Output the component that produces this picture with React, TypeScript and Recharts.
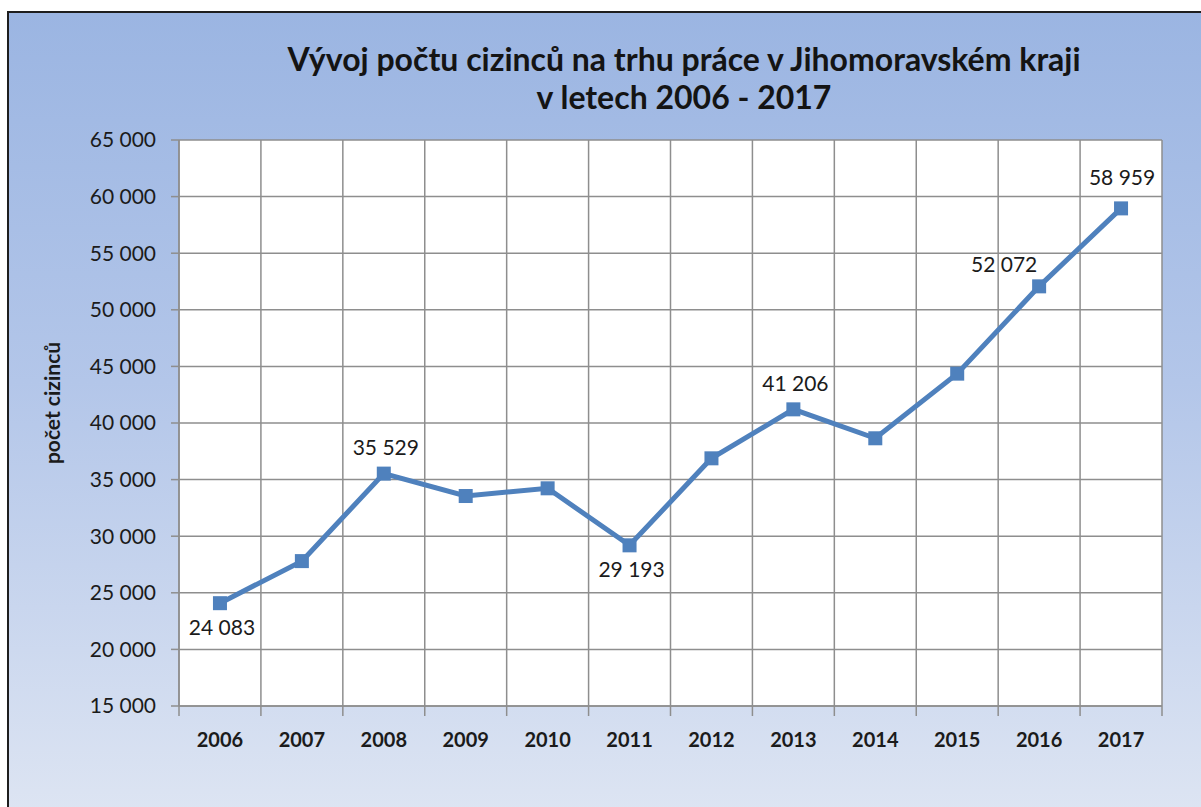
import React from 'react';
import { LineChart, Line, XAxis, YAxis, CartesianGrid, LabelList } from 'recharts';

const years = ['2006', '2007', '2008', '2009', '2010', '2011', '2012', '2013', '2014', '2015', '2016', '2017'];
const foreigners = [24083, 27800, 35529, 33550, 34230, 29193, 36880, 41206, 38650, 44360, 52072, 58959];
const yTicks = [15000, 20000, 25000, 30000, 35000, 40000, 45000, 50000, 55000, 60000, 65000];
const labelPlacement = ['below', null, 'above', null, null, 'below', null, 'above', null, null, 'left', 'aboveFar'];
const titleLines = ['Vývoj počtu cizinců na trhu práce v Jihomoravském kraji', 'v letech 2006 - 2017'];
const yAxisTitle = 'počet cizinců';

const data = years.map((year, i) => ({ pos: i + 0.5, year, value: foreigners[i] }));
const boundaryTicks = years.map((_, i) => i).concat(years.length);
const centerTicks = years.map((_, i) => i + 0.5);

const FONT = 'Lato, "Open Sans", sans-serif';
const BLUE = '#4f81bd';
const GRID = '#8e8e8e';
const TEXT = '#1b1b1b';

const fmt = (v: number) => String(v).replace(/\B(?=(\d{3})+(?!\d))/g, ' ');

const SquareDot = (props: any) => {
  const { cx, cy } = props;
  if (cx == null || cy == null) return null;
  return <rect x={cx - 7} y={cy - 7} width={14} height={14} fill={BLUE} />;
};

const placementOffsets: Record<string, [number, number]> = {
  below: [2, 23],
  above: [2, -27],
  aboveFar: [1, -32],
  left: [-35, -23],
};

const renderDataLabel = (props: any) => {
  const { x, y, value, index } = props;
  const p = labelPlacement[index];
  if (!p) return null;
  const [dx, dy] = placementOffsets[p];
  return (
    <text
      x={x + dx}
      y={y + dy}
      textAnchor="middle"
      dominantBaseline="central"
      fontFamily={FONT}
      fontSize={21}
      fill={TEXT}
    >
      {fmt(value)}
    </text>
  );
};

const renderYTitle = (props: any) => {
  const vb = props.viewBox || {};
  const x = (vb.x || 0) + 51;
  const y = (vb.y || 0) + (vb.height || 0) / 2 - 20;
  return (
    <text
      x={x}
      y={y}
      transform={`rotate(-90 ${x} ${y})`}
      textAnchor="middle"
      dominantBaseline="central"
      fontFamily={FONT}
      fontWeight="bold"
      fontSize={21}
      fill={TEXT}
    >
      {yAxisTitle}
    </text>
  );
};

export default function App() {
  return (
    <div style={{ position: 'fixed', left: 0, top: 0, width: 1201, height: 807, overflow: 'hidden', background: '#fff' }}>
      <div
        style={{
          position: 'absolute',
          left: 7,
          top: 11,
          width: 1220,
          height: 820,
          border: '2px solid #1e1e1e',
          background: 'linear-gradient(to bottom, #9bb5e2 0%, #b3c6e9 45%, #dfe6f3 100%)',
        }}
      />
      <div
        style={{
          position: 'absolute',
          left: 0,
          top: 40,
          width: 1368,
          textAlign: 'center',
          fontFamily: FONT,
          fontWeight: 'bold',
          fontSize: 32,
          lineHeight: '38px',
          color: '#141414',
        }}
      >
        <div>{titleLines[0]}</div>
        <div>{titleLines[1]}</div>
      </div>
      <div style={{ position: 'absolute', left: 0, top: 0 }}>
        <LineChart width={1201} height={807} data={data} margin={{ top: 140, right: 39, bottom: 61, left: 0 }}>
          <CartesianGrid xAxisId="grid" stroke={GRID} strokeWidth={1.5} fill="#ffffff" fillOpacity={1} />
          <XAxis
            xAxisId="grid"
            type="number"
            dataKey="pos"
            domain={[0, years.length]}
            ticks={boundaryTicks}
            interval={0}
            tickFormatter={() => ''}
            tickSize={10}
            height={10}
            axisLine={{ stroke: GRID, strokeWidth: 1.5 }}
            tickLine={{ stroke: GRID, strokeWidth: 1.5 }}
          />
          <XAxis
            xAxisId="lab"
            type="number"
            dataKey="pos"
            domain={[0, years.length]}
            ticks={centerTicks}
            interval={0}
            tickFormatter={(v: number) => years[Math.floor(v)]}
            tickSize={0}
            tickMargin={17}
            height={30}
            axisLine={false}
            tickLine={false}
            tick={{ fontFamily: FONT, fontWeight: 'bold', fontSize: 20, fill: TEXT }}
          />
          <YAxis
            type="number"
            domain={[15000, 65000]}
            ticks={yTicks}
            interval={0}
            tickFormatter={fmt}
            width={179}
            tickSize={8}
            tickMargin={15}
            axisLine={{ stroke: GRID, strokeWidth: 1.5 }}
            tickLine={{ stroke: GRID, strokeWidth: 1.5 }}
            tick={{ fontFamily: FONT, fontSize: 21, fill: TEXT }}
            label={{ content: renderYTitle }}
          />
          <Line
            xAxisId="lab"
            type="linear"
            dataKey="value"
            stroke={BLUE}
            strokeWidth={5}
            dot={<SquareDot />}
            activeDot={false}
            isAnimationActive={false}
          >
            <LabelList dataKey="value" content={renderDataLabel} />
          </Line>
        </LineChart>
      </div>
    </div>
  );
}
